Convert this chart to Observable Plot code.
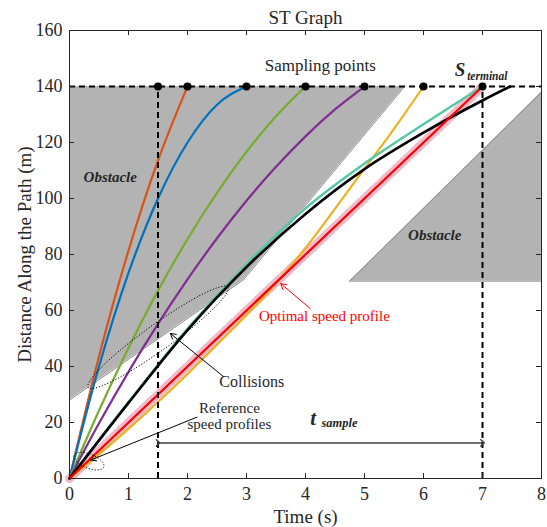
<!DOCTYPE html>
<html>
<head>
<meta charset="utf-8">
<script src="https://cdn.jsdelivr.net/npm/d3@7"></script>
<script src="https://cdn.jsdelivr.net/npm/@observablehq/plot@0.6"></script>
<style>
  html, body { margin: 0; padding: 0; background: white; }
  svg, svg text { font-family: "Liberation Serif", "Times New Roman", serif !important; }
</style>
</head>
<body>
<div id="chart"></div>
<script>
// ---------- data ----------
const tTicks = [0, 1, 2, 3, 4, 5, 6, 7, 8];
const sTicks = [0, 20, 40, 60, 80, 100, 120, 140, 160];

// obstacles (time s, distance m)
const leftObstacleT = [0, 2.95, 5.68];
const leftObstacleLow = [28, 71, 140];
const rightObstacleT = [4.75, 8];
const rightObstacleHigh = [70.5, 138];
const obstacleTop = 140;
const rightObstacleBottom = 70.5;

// reference speed profiles
const orangeT = [0, 0.5, 1, 1.5, 2];
const orangeS = [0, 43.6, 81.4, 113.6, 140];
const blueT = [0, 0.5, 1, 1.5, 2, 2.5, 3];
const blueS = [0, 40, 73.4, 100, 120, 133.5, 140];
const greenT = [0, 0.5, 1, 1.5, 2, 2.5, 3, 3.5, 4];
const greenS = [0, 24.3, 46.6, 67.1, 85.5, 102, 116.7, 129.4, 140];
const purpleT = [0, 0.5, 1, 1.5, 2, 2.5, 3, 3.5, 4, 4.5, 5];
const purpleS = [0, 19.7, 38.1, 55.2, 71.1, 85.8, 99.2, 111.3, 122.2, 131.8, 140];
const yellowT = [0, 1, 1.5, 2.5, 3.45, 4, 4.85, 5.5, 6];
const yellowS = [0, 17.7, 27.3, 47.8, 68.5, 82.3, 106.4, 124.9, 140];
const tealT = [0, 1, 2, 3, 4, 5, 6, 7];
const tealS = [0, 27.3, 53.5, 76.5, 96.5, 112.5, 126.5, 140];
const blackT = [0, 1, 2, 3, 4, 5, 6, 7, 7.47];
const blackS = [0, 27, 53, 75.5, 94.5, 110.5, 123.5, 135, 140];
const optimalT = [0, 7];
const optimalS = [0, 140];

// sampling points
const samplingT = [1.5, 2, 3, 4, 5, 6, 7];
const samplingS = 140;
const tStart = 1.5, tEnd = 7;
const tSampleArrowS = 12.7;

// ---------- helpers ----------
const rows = (T, S) => T.map((t, i) => ({t, s: S[i]}));
const font = "'Liberation Serif', 'Times New Roman', serif";

function ellipseSymbol(rx, ry, deg) {
  const a = deg * Math.PI / 180;
  return {
    draw(ctx) {
      const n = 90;
      for (let i = 0; i <= n; i++) {
        const th = i / n * 2 * Math.PI;
        const x = rx * Math.cos(th), y = ry * Math.sin(th);
        const X = x * Math.cos(a) - y * Math.sin(a);
        const Y = x * Math.sin(a) + y * Math.cos(a);
        if (i === 0) ctx.moveTo(X, Y); else ctx.lineTo(X, Y);
      }
      ctx.closePath();
    }
  };
}

const profiles = [
  {T: orangeT, S: orangeS, color: "#D95319", w: 2.2},
  {T: blueT, S: blueS, color: "#0072BD", w: 2.2},
  {T: greenT, S: greenS, color: "#77AC30", w: 2.2},
  {T: purpleT, S: purpleS, color: "#7E2F8E", w: 2.2},
  {T: yellowT, S: yellowS, color: "#EDB120", w: 2.2},
  {T: tealT, S: tealS, color: "#55C6A3", w: 2.4}
];

const W = 547, H = 527;
const mL = 69, mR = 6, mT = 30, mB = 49;
const fw = W - mL - mR, fh = H - mT - mB;
const tickLen = 5;

const marks = [];

// obstacles
marks.push(Plot.areaY(rows(leftObstacleT, leftObstacleLow), {x: "t", y1: "s", y2: obstacleTop, fill: "#b3b3b3"}));
marks.push(Plot.line(rows(leftObstacleT, leftObstacleLow), {x: "t", y: "s", stroke: "#8a8a8a", strokeWidth: 1}));
marks.push(Plot.areaY(rows(rightObstacleT, rightObstacleHigh), {x: "t", y1: rightObstacleBottom, y2: "s", fill: "#b3b3b3"}));
marks.push(Plot.line(rows(rightObstacleT, rightObstacleHigh), {x: "t", y: "s", stroke: "#8a8a8a", strokeWidth: 1}));
marks.push(Plot.line(rows(rightObstacleT, [rightObstacleBottom, rightObstacleBottom]), {x: "t", y: "s", stroke: "#8a8a8a", strokeWidth: 1}));

// optimal profile pink diamond band (beneath the profiles)
const optRows = rows(optimalT, optimalS);
marks.push(Plot.line(optRows, {x: "t", y: "s", stroke: "#fcedf2", strokeWidth: 9}));
marks.push(Plot.line(optRows, {x: "t", y: "s", stroke: "#ecbccd", strokeWidth: 9, strokeDasharray: "1,4"}));

// reference profiles
for (const p of profiles) {
  marks.push(Plot.line(rows(p.T, p.S), {x: "t", y: "s", stroke: p.color, strokeWidth: p.w, curve: "monotone-x"}));
}
marks.push(Plot.line(rows(blackT, blackS), {x: "t", y: "s", stroke: "black", strokeWidth: 2.6, curve: "monotone-x"}));
marks.push(Plot.line(optRows, {x: "t", y: "s", stroke: "#ff0000", strokeWidth: 2.2}));

// dashed guides
marks.push(Plot.ruleY([samplingS], {x1: tTicks[0], x2: tTicks[tTicks.length - 1], stroke: "black", strokeWidth: 2, strokeDasharray: "6,4"}));
marks.push(Plot.ruleX([tStart, tEnd], {y1: 0, y2: samplingS, stroke: "black", strokeWidth: 2, strokeDasharray: "6,4"}));

// sampling points
marks.push(Plot.dot(samplingT, {x: d => d, y: samplingS, r: 4, fill: "black", stroke: "none"}));

// t_sample double arrow
marks.push(Plot.link([0], {x1: tStart, x2: tEnd, y1: tSampleArrowS, y2: tSampleArrowS, stroke: "#404040", strokeWidth: 1.6, markerStart: "arrow", markerEnd: "arrow"}));

// annotation arrows
marks.push(Plot.arrow([0], {x1: 2.61, y1: 36.4, x2: 1.71, y2: 51.8, stroke: "black", strokeWidth: 1, headLength: 9}));
marks.push(Plot.arrow([0], {x1: 4.08, y1: 60.7, x2: 3.58, y2: 69.6, stroke: "#ff0000", strokeWidth: 1, headLength: 9}));
marks.push(Plot.arrow([0], {x1: 2.16, y1: 21.9, x2: 0.36, y2: 6.6, stroke: "black", strokeWidth: 1, headLength: 9}));

// dotted ellipses
marks.push(Plot.dot([0], {x: () => 1.5, y: () => 50.4, symbol: ellipseSymbol(86, 13, -35.7), r: 5, fill: "none", stroke: "black", strokeWidth: 1, strokeDasharray: "1.2,1.8"}));
marks.push(Plot.dot([0], {x: () => 0.33, y: () => 6.2, symbol: ellipseSymbol(16, 7, 22), r: 5, fill: "none", stroke: "black", strokeWidth: 1, strokeDasharray: "1.2,1.8"}));

// texts
marks.push(Plot.text(["Sampling points"], {x: () => 4.25, y: () => 147.5, fontSize: 17}));
marks.push(Plot.text(["S"], {x: () => 6.53, y: () => 145.8, textAnchor: "start", fontSize: 19, fontWeight: "bold", fontStyle: "italic"}));
marks.push(Plot.text(["terminal"], {x: () => 6.74, y: () => 143.6, textAnchor: "start", fontSize: 11.5, fontWeight: "bold", fontStyle: "italic"}));
marks.push(Plot.text(["Obstacle"], {x: () => 0.69, y: () => 107.5, fontSize: 15, fontWeight: "bold", fontStyle: "italic"}));
marks.push(Plot.text(["Obstacle"], {x: () => 6.19, y: () => 86.8, fontSize: 15, fontWeight: "bold", fontStyle: "italic"}));
marks.push(Plot.text(["Optimal speed profile"], {x: () => 4.32, y: () => 57.9, fontSize: 15, fill: "#ff0000"}));
marks.push(Plot.text(["Collisions"], {x: () => 3.09, y: () => 34.4, fontSize: 16}));
marks.push(Plot.text(["Reference"], {x: () => 2.71, y: () => 25, fontSize: 15}));
marks.push(Plot.text(["speed profiles"], {x: () => 2.71, y: () => 19.3, fontSize: 15}));
marks.push(Plot.text(["t"], {x: () => 4.08, y: () => 21.6, textAnchor: "start", fontSize: 21, fontWeight: "bold", fontStyle: "italic"}));
marks.push(Plot.text(["sample"], {x: () => 4.27, y: () => 19.8, textAnchor: "start", fontSize: 12.5, fontWeight: "bold", fontStyle: "italic"}));

// frame & inner ticks
marks.push(Plot.frame({stroke: "#262626", strokeWidth: 1}));
const innerX = tTicks.slice(1, -1), innerY = sTicks.slice(1, -1);
marks.push(Plot.ruleX(innerX, {x: d => d, insetTop: fh - tickLen, stroke: "#262626"}));
marks.push(Plot.ruleX(innerX, {x: d => d, insetBottom: fh - tickLen, stroke: "#262626"}));
marks.push(Plot.ruleY(innerY, {y: d => d, insetRight: fw - tickLen, stroke: "#262626"}));
marks.push(Plot.ruleY(innerY, {y: d => d, insetLeft: fw - tickLen, stroke: "#262626"}));

// axes labels
marks.push(Plot.axisX({ticks: tTicks, tickSize: 0, tickPadding: 9, label: null, fontSize: 18}));
marks.push(Plot.axisY({ticks: sTicks, tickSize: 0, tickPadding: 7, label: null, fontSize: 18}));
marks.push(Plot.text(["ST Graph"], {frameAnchor: "top", lineAnchor: "middle", dy: -13, fontSize: 19}));
marks.push(Plot.text(["Time (s)"], {frameAnchor: "bottom", lineAnchor: "middle", dy: 38, fontSize: 19}));
marks.push(Plot.text(["Distance Along the Path (m)"], {frameAnchor: "left", textAnchor: "middle", lineAnchor: "middle", dx: -45, rotate: -90, fontSize: 19}));

const chart = Plot.plot({
  width: W, height: H,
  marginLeft: mL, marginRight: mR, marginTop: mT, marginBottom: mB,
  x: {domain: [tTicks[0], tTicks[tTicks.length - 1]]},
  y: {domain: [sTicks[0], sTicks[sTicks.length - 1]]},
  style: {fontFamily: font, fontSize: "18px", background: "white", color: "#262626", overflow: "visible"},
  marks
});
document.getElementById("chart").appendChild(chart);
</script>
</body>
</html>
